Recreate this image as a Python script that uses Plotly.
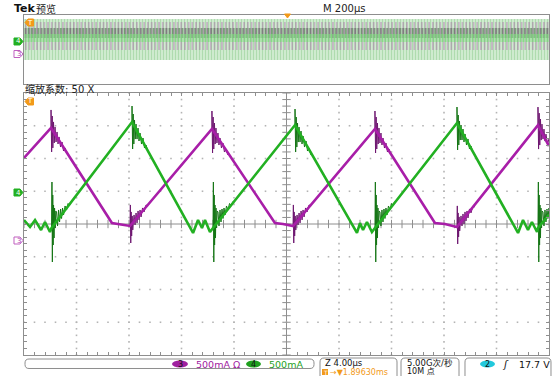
import plotly.graph_objects as go
import numpy as np

W, H = 554, 376

# ---- channel settings -------------------------------------------------
CH3_SCALE, CH3_POS = 500, -0.5   # mA/div, ground position in div
CH4_SCALE, CH4_POS = 500, 1.0
ZOOM_TDIV = 4.0                   # µs/div (zoomed window)
MAIN_TDIV = 200.0                 # µs/div (record overview)

# ---- channel 3 (magenta): corner points, µs / mA, ringing label -----------
ch3_t = [-20.00, -17.94, -13.30, -12.70, -12.24, -11.92, -5.68, -0.88, -0.27,
         0.50, 6.74, 11.31, 12.07, 12.99, 19.16, 20.00]
ch3_ma = [1258, 1716, 265, 250, 235, 220, 1700, 265, 250,
          220, 1700, 265, 250, 205, 1760, 1440]
ch3_ring = ["", "peak", "", "", "", "flat", "peak", "", "",
            "flat", "peak", "", "", "flat", "peak", ""]

# ringing after a ch3 peak (dt µs, dI mA)
ch3_peak_dt = [0.000, 0.046, 0.091, 0.137, 0.190, 0.244, 0.305, 0.381, 0.457,
               0.533, 0.610, 0.724, 0.838, 0.952, 1.067, 1.219]
ch3_peak_di = [275, -366, 183, -305, 92, -229, 15, -214, -61,
               -244, -137, -290, -214, -351, -305, -397]
# ringing at the end of the ch3 flat section
ch3_flat_dt = [0.023, 0.053, 0.084, 0.122, 0.160, 0.206, 0.251, 0.305, 0.381,
               0.457, 0.533, 0.610, 0.686, 0.762, 0.838, 0.952, 1.067, 1.219, 1.371]
ch3_flat_di = [321, -260, 214, -153, 153, -61, 122, 168, 15,
               198, 46, 229, 92, 244, 137, 275, 214, 321, 305]

# ---- channel 4 (green) ----------------------------------------------------
ch4_t = [-20.00, -19.54, -19.16, -18.70, -18.40, -18.02, -17.90, -11.77,
         -7.12, -6.74, -6.44, -6.21, -5.83, -5.60, 0.65,
         5.37, 5.60, 5.83, 6.13, 6.51, 6.74, 12.99,
         17.64, 18.02, 18.40, 18.70, 19.09, 19.16, 20.00]
ch4_ma = [-440, -546, -439, -592, -469, -622, -561, 1057,
          -637, -439, -561, -439, -622, -561, 1011,
          -637, -485, -592, -469, -622, -561, 1042,
          -637, -439, -592, -469, -622, -561, -355]
ch4_ring = ["", "", "", "", "", "", "low", "high",
            "", "", "", "", "", "low", "high",
            "", "", "", "", "", "low", "high",
            "", "", "", "", "", "low", ""]

ch4_high_dt = [0.000, 0.046, 0.091, 0.137, 0.190, 0.244, 0.305, 0.381, 0.457,
               0.533, 0.610, 0.724, 0.838, 0.952, 1.067, 1.219]
ch4_high_di = [244, -412, 122, -336, 31, -260, -31, -260, -92,
               -290, -168, -336, -244, -397, -351, -458]
ch4_low_dt = [0.008, 0.030, 0.061, 0.091, 0.122, 0.152, 0.190, 0.229, 0.274,
              0.320, 0.381, 0.457, 0.533, 0.610, 0.686, 0.762, 0.838, 0.914,
              1.029, 1.143, 1.257, 1.371, 1.524]
ch4_low_di = [-366, 702, -519, 504, -260, 351, -153, 305, 0,
              260, 244, 31, 275, 92, 290, 145, 305, 198,
              336, 275, 374, 344, 406]

# ---- record overview bands (mA) -------------------------------------------
ov_ch4_env = (-1110, 1270)
ov_ch3_env = (220, 1850)
ov_ch4_dense = (170, 750)
ov_ch4_bright = (-65, 400)

# ---- colours --------------------------------------------------------------
GREEN, GREEN_DK = "#22b022", "#157515"
MAGENTA, MAGENTA_DK = "#a81ea8", "#6e1670"
ORANGE = "#f29a1a"
FRAME = "#8e8e8e"
DOT = "#b4b4b4"

# ---- pixel layout -----------------------------------------------------------
PL, PR = 24, 549
MAIN_T, MAIN_B = 93, 355
OV_T, OV_B = 15, 84


def fx(p):
    return p / W


def fy(p):
    return 1 - p / H


def ch3_div(v):
    return None if v is None else CH3_POS + v / CH3_SCALE


def ch4_div(v):
    return None if v is None else CH4_POS + v / CH4_SCALE


def assemble(ts, vs, tags, bursts):
    """Ringing bursts attached to labelled corners (None-separated)."""
    bx, by = [], []
    for t, v, tag in zip(ts, vs, tags):
        if tag:
            dts, dis = bursts[tag]
            bx += [t] + [t + d for d in dts] + [None]
            by += [v] + [v + d for d in dis] + [None]
    return bx, by


fig = go.Figure()

# ---- graticule dots ---------------------------------------------------------
sub_y = np.round(np.arange(-4, 4.0001, 0.2), 3)
sub_t = np.round(np.arange(-20, 20.0001, 0.8), 3)
gx, gy = [], []
for k in range(-4, 5):
    if k == 0:
        continue
    gx += [k * ZOOM_TDIV] * len(sub_y)
    gy += list(sub_y)
for d in (-3, -2, -1, 1, 2, 3):
    gx += list(sub_t)
    gy += [d] * len(sub_t)
fig.add_trace(go.Scatter(x=gx, y=gy, mode="markers", hoverinfo="skip",
                         marker=dict(symbol="square", size=1.6, color=DOT, line=dict(width=0))))
# centre-line ticks
fig.add_trace(go.Scatter(x=sub_t, y=[0] * len(sub_t), mode="markers", hoverinfo="skip",
                         marker=dict(symbol="line-ns", size=6, line=dict(width=1, color=FRAME))))
fig.add_trace(go.Scatter(x=[0] * len(sub_y), y=sub_y, mode="markers", hoverinfo="skip",
                         marker=dict(symbol="line-ew", size=6, line=dict(width=1, color=FRAME))))

# ---- waveforms --------------------------------------------------------------
b3x, b3y = assemble(ch3_t, ch3_ma, ch3_ring,
                    {"peak": (ch3_peak_dt, ch3_peak_di), "flat": (ch3_flat_dt, ch3_flat_di)})
b4x, b4y = assemble(ch4_t, ch4_ma, ch4_ring,
                    {"high": (ch4_high_dt, ch4_high_di), "low": (ch4_low_dt, ch4_low_di)})

# ringing first, the main traces are drawn over it
fig.add_trace(go.Scatter(x=b3x, y=[ch3_div(v) for v in b3y], mode="lines", hoverinfo="skip",
                         line=dict(color=MAGENTA_DK, width=1.0), connectgaps=False))
fig.add_trace(go.Scatter(x=ch3_t, y=[ch3_div(v) for v in ch3_ma], mode="lines", hoverinfo="skip",
                         line=dict(color=MAGENTA, width=2.6)))
fig.add_trace(go.Scatter(x=b4x, y=[ch4_div(v) for v in b4y], mode="lines", hoverinfo="skip",
                         line=dict(color=GREEN_DK, width=1.0), connectgaps=False))
fig.add_trace(go.Scatter(x=ch4_t, y=[ch4_div(v) for v in ch4_ma], mode="lines", hoverinfo="skip",
                         line=dict(color=GREEN, width=2.6)))

# ---- record overview ---------------------------------------------------------
span = 5 * MAIN_TDIV


def band(lo, hi, fill, pat):
    return go.Scatter(x=[-span, span, span, -span, -span], y=[lo, lo, hi, hi, lo],
                      xaxis="x2", yaxis="y2", mode="lines", fill="toself", hoverinfo="skip",
                      line=dict(width=0), fillcolor=fill, fillpattern=pat)


fig.add_trace(band(ch4_div(ov_ch4_env[0]), ch4_div(ov_ch4_env[1]), "rgba(0,0,0,0)",
                   dict(shape="|", fgcolor="#86c886", bgcolor="rgba(185,228,185,0.55)", size=3, solidity=0.5)))
fig.add_trace(band(ch4_div(ov_ch4_dense[0]), ch4_div(ov_ch4_dense[1]), "rgba(0,0,0,0)",
                   dict(shape="|", fgcolor="#356535", bgcolor="rgba(95,135,95,0.3)", size=3.2, solidity=0.4)))
fig.add_trace(band(ch3_div(ov_ch3_env[0]), ch3_div(ov_ch3_env[1]), "rgba(0,0,0,0)",
                   dict(shape="|", fgcolor="#a02aa0", bgcolor="rgba(0,0,0,0)", size=3.7, solidity=0.28)))
fig.add_trace(band(ch4_div(ov_ch4_bright[0]), ch4_div(ov_ch4_bright[1]), "rgba(0,0,0,0)",
                   dict(shape="|", fgcolor="#6fdc6f", bgcolor="rgba(140,225,140,0.45)", size=3, solidity=0.45)))

# ---- layout ---------------------------------------------------------------
hidden = dict(showgrid=False, zeroline=False, showticklabels=False, fixedrange=True)
fig.update_layout(
    width=W, height=H, margin=dict(l=0, r=0, t=0, b=0),
    paper_bgcolor="white", plot_bgcolor="white", showlegend=False,
    xaxis=dict(domain=[fx(PL), fx(PR)], range=[-5 * ZOOM_TDIV, 5 * ZOOM_TDIV], anchor="y",
               showline=True, linecolor=FRAME, linewidth=1, mirror="ticks", ticks="inside",
               tick0=0, dtick=ZOOM_TDIV / 5, ticklen=3, tickcolor=FRAME, tickwidth=1, **hidden),
    yaxis=dict(domain=[fy(MAIN_B), fy(MAIN_T)], range=[-4, 4], anchor="x",
               showline=True, linecolor=FRAME, linewidth=1, mirror="ticks", ticks="inside",
               tick0=0, dtick=0.2, ticklen=3, tickcolor=FRAME, tickwidth=1, **hidden),
    xaxis2=dict(domain=[fx(PL), fx(PR)], range=[-span, span], anchor="y2",
                showline=True, linecolor=FRAME, linewidth=1, mirror=True, **hidden),
    yaxis2=dict(domain=[fy(OV_B), fy(OV_T)], range=[-4, 4], anchor="x2",
                showline=True, linecolor=FRAME, linewidth=1, mirror=True, **hidden),
)

shapes = [
    dict(type="line", xref="x", yref="y", x0=-20, x1=20, y0=0, y1=0, line=dict(color=FRAME, width=1), layer="below"),
    dict(type="line", xref="x", yref="y", x0=0, x1=0, y0=-4, y1=4, line=dict(color=FRAME, width=1), layer="below"),
]


def poly(points, fill, line_color, width=1):
    path = "M " + " L ".join(f"{fx(a):.5f},{fy(b):.5f}" for a, b in points) + " Z"
    return dict(type="path", xref="paper", yref="paper", path=path, fillcolor=fill,
                line=dict(color=line_color, width=width))


def rounded(x0, y0, x1, y1, r):
    p = lambda a, b: f"{fx(a):.5f},{fy(b):.5f}"
    path = (f"M {p(x0 + r, y0)} L {p(x1 - r, y0)} Q {p(x1, y0)} {p(x1, y0 + r)} "
            f"L {p(x1, y1 - r)} Q {p(x1, y1)} {p(x1 - r, y1)} L {p(x0 + r, y1)} "
            f"Q {p(x0, y1)} {p(x0, y1 - r)} L {p(x0, y0 + r)} Q {p(x0, y0)} {p(x0 + r, y0)} Z")
    return dict(type="path", xref="paper", yref="paper", path=path,
                fillcolor="rgba(0,0,0,0)", line=dict(color=FRAME, width=1))


def right_tag(x0, yc, w, h, fill, edge):
    return poly([(x0, yc - h / 2), (x0 + w - 3, yc - h / 2), (x0 + w, yc),
                 (x0 + w - 3, yc + h / 2), (x0, yc + h / 2)], fill, edge)


def left_tag(x0, yc, w, h, fill, edge):
    return poly([(x0, yc), (x0 + 3, yc - h / 2), (x0 + w, yc - h / 2),
                 (x0 + w, yc + h / 2), (x0 + 3, yc + h / 2)], fill, edge)


# channel / trigger tags
shapes += [
    right_tag(14, 192.5, 9, 7, GREEN, GREEN),
    right_tag(14, 240.5, 9, 7, "white", "#c060c0"),
    right_tag(14, 41.5, 9, 7, GREEN, GREEN),
    right_tag(14, 54, 9, 7, "white", "#c060c0"),
    left_tag(25, 101.5, 8.5, 7, ORANGE, ORANGE),
    left_tag(25, 22.5, 8.5, 7, ORANGE, ORANGE),
    poly([(284.5, 14), (290.5, 14), (287.5, 18)], ORANGE, ORANGE),
]

# status bar frames and pills
shapes += [
    rounded(25, 359, 314, 368.5, 4),
    rounded(320, 358, 397, 384, 4),
    rounded(401, 358, 459, 384, 4),
    rounded(465, 358, 551, 384, 4),
    dict(type="circle", xref="paper", yref="paper", x0=fx(172), x1=fx(188), y0=fy(367.5), y1=fy(360.5),
         fillcolor="#a020a0", line=dict(width=0)),
    dict(type="circle", xref="paper", yref="paper", x0=fx(246), x1=fx(261), y0=fy(367.5), y1=fy(360.5),
         fillcolor="#1ea01e", line=dict(width=0)),
    dict(type="circle", xref="paper", yref="paper", x0=fx(480), x1=fx(495), y0=fy(367.5), y1=fy(360.5),
         fillcolor="#22c8dc", line=dict(width=0)),
    dict(type="rect", xref="paper", yref="paper", x0=fx(322), x1=fx(328), y0=fy(375), y1=fy(369),
         fillcolor=ORANGE, line=dict(width=0)),
]
fig.update_layout(shapes=shapes)

SANS = "DejaVu Sans"
CJK = "DejaVu Sans, Noto Sans CJK SC"


def label(x, y, text, size=10, color="#111", family=SANS, anchor="left"):
    return dict(x=fx(x), y=fy(y), xref="paper", yref="paper", text=text, showarrow=False,
                xanchor=anchor, yanchor="middle", borderpad=0,
                font=dict(size=size, color=color, family=family))


anns = [
    label(13, 9, "<b>Tek</b>", 11, "#111", SANS),
    label(35, 9, "预览", 10, "#222", CJK),
    label(322, 9, "M 200µs", 10, "#222", SANS),
    label(24, 89, "缩放系数: 50 X", 10, "#222", CJK),
    label(18.5, 192.5, "4", 7, "white", SANS, "center"),
    label(18.5, 240.5, "3", 7, "#b040b0", SANS, "center"),
    label(18.5, 41.5, "4", 7, "white", SANS, "center"),
    label(18.5, 54, "3", 7, "#b040b0", SANS, "center"),
    label(30, 101.5, "T", 7, "white", SANS, "center"),
    label(30, 22.5, "T", 7, "white", SANS, "center"),
    label(180, 364, "3", 8, "#111", SANS, "center"),
    label(195, 364, "500mA Ω", 9.5, "#a020a0", SANS),
    label(253.5, 364, "4", 8, "#111", SANS, "center"),
    label(268, 364, "500mA", 9.5, "#1ea01e", SANS),
    label(324, 362.5, "Z 4.00µs", 8.5, "#111", SANS),
    label(325, 372, "T", 6, "white", SANS, "center"),
    label(329, 372, "→▼1.89630ms", 8, ORANGE, SANS),
    label(406, 363, "5.00G次/秒", 8.5, "#111", CJK),
    label(406, 371, "10M 点", 8, "#111", CJK),
    label(487.5, 364, "2", 8, "#111", SANS, "center"),
    label(501, 364, "<i>ʃ</i>", 10, "#111", SANS),
    label(518, 364, "17.7 V", 9.5, "#111", SANS),
]
fig.update_layout(annotations=anns)

fig.write_html("out.html")
